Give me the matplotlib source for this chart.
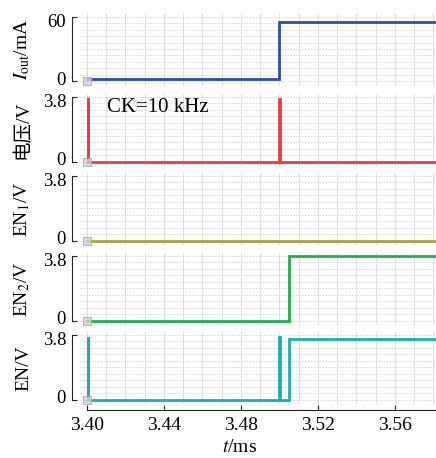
import matplotlib
matplotlib.use('Agg')
import matplotlib.pyplot as plt
import matplotlib.transforms as mtransforms
import numpy as np

plt.rcParams['font.family'] = ['Liberation Serif', 'Noto Sans CJK SC']
plt.rcParams['mathtext.fontset'] = 'stix'

# waveform vertices (time in ms, value)
t_iout = [3.40, 3.50, 3.50, 3.582]
v_iout = [2.5, 2.5, 55.0, 55.0]

t_ck = [3.40, 3.4005, 3.4005, 3.4008, 3.4008, 3.50, 3.50, 3.5003, 3.5003, 3.582]
v_ck = [0, 0, 3.75, 3.75, 0, 0, 3.7, 3.7, 0, 0]

t_en1 = [3.40, 3.582]
v_en1 = [0, 0]

t_en2 = [3.40, 3.505, 3.505, 3.582]
v_en2 = [0, 0, 3.78, 3.78]

t_en = [3.40, 3.4005, 3.4005, 3.4008, 3.4008, 3.50, 3.50, 3.5004, 3.5004, 3.505, 3.505, 3.582]
v_en = [0, 0, 3.68, 3.68, 0, 0, 3.68, 3.68, 0, 0, 3.56, 3.56]

y_max = [60, 3.8, 3.8, 3.8, 3.8]
y_tick_labels = [['0', '60'], ['0', '3.8'], ['0', '3.8'], ['0', '3.8'], ['0', '3.8']]
y_labels = [r'$I_{\mathrm{out}}$/mA', '电压/V', r'EN$_1$/V', r'EN$_2$/V', 'EN/V']
colors = ['#2f4fa8', '#ee3a40', '#a5a53c', '#1fb04e', '#1ab0b0']
series = [(t_iout, v_iout), (t_ck, v_ck), (t_en1, v_en1), (t_en2, v_en2), (t_en, v_en)]
x_ticks = [3.40, 3.44, 3.48, 3.52, 3.56]

W, H = 436, 458
fig = plt.figure(figsize=(W / 100, H / 100), dpi=100)

top_px = [16.7, 97, 176, 256, 335]  # pixel row of the top tick
scale_px = 64.5                        # pixels from 0 to top tick
left_px = 80
xmin, xmax = 3.3964, 3.5813

for i in range(5):
    lo, hi = -0.07, 1.05
    ax_top = top_px[i] - (hi - 1) * scale_px
    ax_h = (hi - lo) * scale_px
    ax = fig.add_axes([left_px / W, 1 - (ax_top + ax_h) / H, (W - left_px) / W, ax_h / H])
    ym = y_max[i]
    ax.set_ylim(lo * ym, hi * ym)
    ax.set_xlim(xmin, xmax)

    # grid
    for gx in np.arange(3.40, 3.59, 0.01):
        ax.axvline(gx, color='#e0e0e0', lw=0.8, zorder=0)
    for gy in np.linspace(0, ym, 11):
        ax.axhline(gy, color='#d8d8d8', lw=0.7, ls=(0, (1.5, 1.5)), zorder=0)

    t, v = series[i]
    ax.plot(t, v, color=colors[i], lw=2.0, solid_joinstyle='miter', zorder=3)
    ax.plot([3.40], [0], marker='s', ms=6, mfc='#d4d4d4', mec='#a8a8a8', mew=0.8, alpha=0.8, zorder=4)

    for s in ['top', 'right']:
        ax.spines[s].set_visible(False)
    ax.spines['left'].set_position(('outward', 6))
    ax.spines['left'].set_bounds(0, ym)
    ax.spines['left'].set_color('#222222')
    ax.set_yticks([0, ym])
    ax.set_yticklabels(y_tick_labels[i])
    ax.tick_params(axis='y', direction='in', length=3.5, pad=4, labelsize=13.5, color='#222222')
    # bottom label sits a little high, top label a little low (as in the reference)
    for lab, dy in zip(ax.get_yticklabels(), [2.0, -2.5]):
        lab.set_transform(lab.get_transform() + mtransforms.ScaledTranslation(0, dy / 72, fig.dpi_scale_trans))
    ax.set_ylabel(y_labels[i], fontsize=14)
    ax.yaxis.set_label_coords(-0.135, 0.5)

    if i < 4:
        ax.spines['bottom'].set_visible(False)
        ax.set_xticks([])
    else:
        ax.spines['bottom'].set_position(('outward', 4))
        ax.spines['bottom'].set_bounds(3.40, xmax)
        ax.spines['bottom'].set_color('#222222')
        ax.set_xticks(x_ticks)
        ax.set_xticklabels([f'{x:.2f}' for x in x_ticks])
        ax.tick_params(axis='x', direction='in', length=3.5, pad=5, labelsize=14, color='#222222')
        ax.set_xlabel(r'$t$/ms', fontsize=14)
        ax.xaxis.set_label_coords((240 - left_px) / (W - left_px), -0.49)

    if i == 1:
        ax.text(3.4105, 0.83 * ym, 'CK=10 kHz', fontsize=15, va='center', ha='left')

fig.savefig('out.png', dpi=100)
